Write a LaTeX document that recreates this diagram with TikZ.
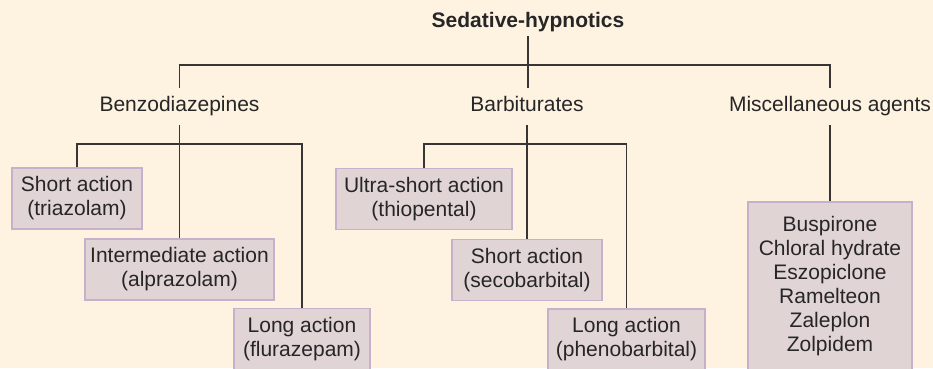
\documentclass[tikz,border=0pt]{standalone}
\usepackage{fontspec}
\setmainfont{Liberation Sans}
\definecolor{bgc}{HTML}{FEF2E1}
\definecolor{boxfill}{HTML}{E1D4D5}
\definecolor{boxline}{HTML}{C6B0CC}
\definecolor{linec}{HTML}{3A3535}
\begin{document}
\begin{tikzpicture}[x=1pt,y=-1pt,
  txt/.style={font=\fontsize{21}{24}\selectfont, text=black!85},
  head/.style={txt, anchor=base, inner sep=0pt, text height=23pt, text depth=14pt},
  drug/.style={txt, draw=boxline, line width=1.4pt, fill=boxfill, align=center, inner sep=0pt, minimum height=61pt},
  conn/.style={draw=linec, line width=1.2pt}]
\fill[bgc] (0,0) rectangle (933,368);
\useasboundingbox (0,0) rectangle (933,368);
% headings
\node[head, font=\fontsize{21}{24}\selectfont\bfseries, text depth=8.5pt] (title) at (528,27.5) {Sedative-hypnotics};
\node[head] (benz) at (179.5,111) {Benzodiazepines};
\node[head] (barb) at (527,111) {Barbiturates};
\node[head] (miscl) at (830,111) {Miscellaneous agents};
% boxes
\node[drug, minimum width=130pt] (sa) at (77,198.5) {Short action\\(triazolam)};
\node[drug, minimum width=189pt] (ia) at (179.5,269.5) {Intermediate action\\(alprazolam)};
\node[drug, minimum width=136pt] (la) at (302,339) {Long action\\(flurazepam)};
\node[drug, minimum width=176pt] (us) at (424,199) {Ultra-short action\\(thiopental)};
\node[drug, minimum width=150pt] (sb) at (527,270) {Short action\\(secobarbital)};
\node[drug, minimum width=157pt] (lb) at (626.5,339.5) {Long action\\(phenobarbital)};
\node[drug, minimum width=164pt, minimum height=168pt] (misc) at (830,286) {Buspirone\\Chloral hydrate\\Eszopiclone\\Ramelteon\\Zaleplon\\Zolpidem};
% junctions
\coordinate (j0) at (528,65);
\coordinate (j1) at (179.5,144);
\coordinate (j2) at (527,144);
% connectors
\draw[conn] (title.south) -- (title.south |- barb.north);
\draw[conn] (benz.north) |- (j0) -| (miscl.north);
\draw[conn] (benz.south) -- (ia.north);
\draw[conn] (sa.north) |- (j1) -| (la.north);
\draw[conn] (barb.south) -- (sb.north);
\draw[conn] (us.north) |- (j2) -| (lb.north);
\draw[conn] (miscl.south) -- (misc.north);
\end{tikzpicture}
\end{document}
